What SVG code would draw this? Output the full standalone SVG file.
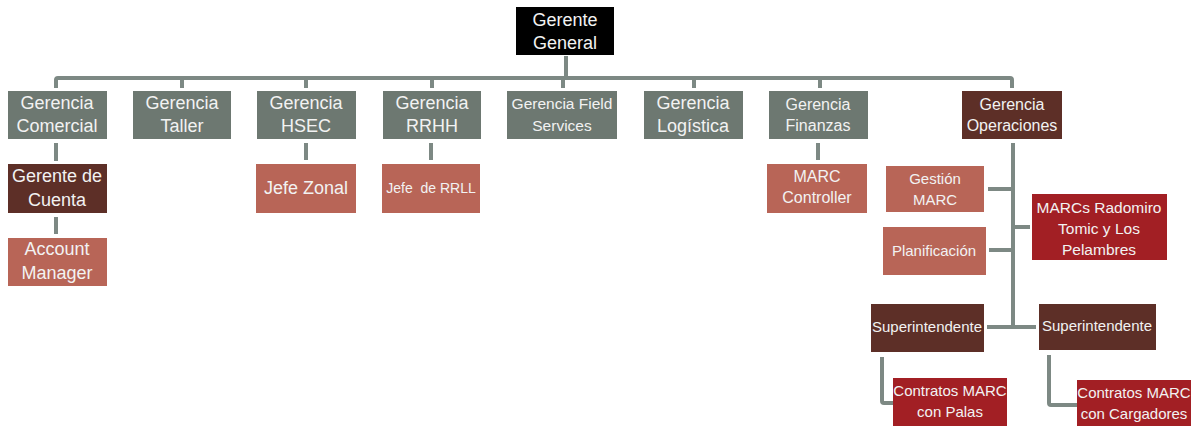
<svg xmlns="http://www.w3.org/2000/svg" width="1194" height="426" viewBox="0 0 1194 426">
<style>
.gray{fill:#6d7871}
.brown{fill:#5d2f27}
.salmon{fill:#b86557}
.red{fill:#a21f24}
.blk{fill:#000}
text{font-family:"Liberation Sans",Arial,sans-serif;fill:#f2f2f2;text-anchor:middle;white-space:pre}
.ln{fill:none;stroke:#7d8984;stroke-width:4;stroke-linejoin:round}
</style>
<rect width="1194" height="426" fill="#fff"/>
<g id="connectors">
<path class="ln" d="M566,56 V78"/>
<path class="ln" d="M56,88 V80 Q56,78 58,78 H1010 Q1012,78 1012,80 V88"/>
<path class="ln" d="M182,78 V88 M306,78 V88 M432,78 V88 M563,78 V88 M694,78 V88 M820,78 V88"/>
<path class="ln" d="M56,143 V161 M56,217 V234 M306,143 V160 M431,143 V160 M818,143 V160"/>
<path class="ln" d="M1013,143 V327"/>
<path class="ln" d="M988,189 H1013 M989,250 H1013 M1013,227 H1030 M987,327 H1036"/>
<path class="ln" d="M882,357 V401 Q882,403 884,403 H893"/>
<path class="ln" d="M1049,355 V403 Q1049,405 1051,405 H1077"/>
</g>
<g id="gerente-general"><rect class="blk" x="516" y="7" width="98" height="48"/><text x="565" y="26" font-size="18">Gerente</text><text x="565" y="49" font-size="18">General</text></g>
<g id="g-comercial"><rect class="gray" x="8" y="91" width="99" height="48"/><text x="57" y="109" font-size="18">Gerencia</text><text x="57" y="132" font-size="18">Comercial</text></g>
<g id="g-taller"><rect class="gray" x="133" y="91" width="98" height="48"/><text x="182" y="109" font-size="18">Gerencia</text><text x="182" y="132" font-size="18">Taller</text></g>
<g id="g-hsec"><rect class="gray" x="257" y="91" width="99" height="48"/><text x="306" y="109" font-size="18">Gerencia</text><text x="306" y="132" font-size="18">HSEC</text></g>
<g id="g-rrhh"><rect class="gray" x="383" y="91" width="98" height="48"/><text x="432" y="109" font-size="18">Gerencia</text><text x="432" y="132" font-size="18">RRHH</text></g>
<g id="g-field"><rect class="gray" x="507" y="91" width="110" height="48"/><text x="562" y="109" font-size="15.5">Gerencia Field</text><text x="562" y="131" font-size="15.5">Services</text></g>
<g id="g-logistica"><rect class="gray" x="644" y="91" width="99" height="48"/><text x="693" y="109" font-size="18">Gerencia</text><text x="693" y="132" font-size="18">Logística</text></g>
<g id="g-finanzas"><rect class="gray" x="769" y="91" width="99" height="48"/><text x="818" y="110" font-size="16">Gerencia</text><text x="818" y="131" font-size="16">Finanzas</text></g>
<g id="g-operaciones"><rect class="brown" x="962" y="91" width="100" height="48"/><text x="1012" y="110" font-size="16">Gerencia</text><text x="1012" y="131" font-size="16">Operaciones</text></g>
<g id="gerente-cuenta"><rect class="brown" x="8" y="164" width="99" height="49"/><text x="57" y="182" font-size="18">Gerente de</text><text x="57" y="206" font-size="18">Cuenta</text></g>
<g id="account-manager"><rect class="salmon" x="8" y="238" width="99" height="48"/><text x="57" y="255" font-size="18">Account</text><text x="57" y="279" font-size="18">Manager</text></g>
<g id="jefe-zonal"><rect class="salmon" x="256" y="164" width="100" height="49"/><text x="306" y="194" font-size="18">Jefe Zonal</text></g>
<g id="jefe-rrll"><rect class="salmon" x="382" y="164" width="98" height="49"/><text x="431" y="193" font-size="14">Jefe  de RRLL</text></g>
<g id="marc-controller"><rect class="salmon" x="767" y="164" width="100" height="49"/><text x="817" y="182" font-size="16">MARC</text><text x="817" y="203" font-size="16">Controller</text></g>
<g id="gestion-marc"><rect class="salmon" x="886" y="166" width="98" height="46"/><text x="935" y="184" font-size="15">Gestión</text><text x="935" y="205" font-size="15">MARC</text></g>
<g id="planificacion"><rect class="salmon" x="883" y="227" width="103" height="48"/><text x="934" y="256" font-size="15">Planificación</text></g>
<g id="marcs-radomiro"><rect class="red" x="1032" y="194" width="135" height="66"/><text x="1099" y="213" font-size="15.5">MARCs Radomiro</text><text x="1099" y="234" font-size="15.5">Tomic y Los</text><text x="1099" y="255" font-size="15.5">Pelambres</text></g>
<g id="superintendente-1"><rect class="brown" x="871" y="304" width="113" height="48"/><text x="927" y="332" font-size="15">Superintendente</text></g>
<g id="superintendente-2"><rect class="brown" x="1039" y="304" width="117" height="46"/><text x="1097" y="331" font-size="15">Superintendente</text></g>
<g id="contratos-palas"><rect class="red" x="893" y="378" width="114" height="48"/><text x="950" y="396" font-size="15">Contratos MARC</text><text x="950" y="417" font-size="15">con Palas</text></g>
<g id="contratos-cargadores"><rect class="red" x="1077" y="380" width="114" height="46"/><text x="1134" y="398" font-size="15">Contratos MARC</text><text x="1134" y="419" font-size="15">con Cargadores</text></g>
</svg>
